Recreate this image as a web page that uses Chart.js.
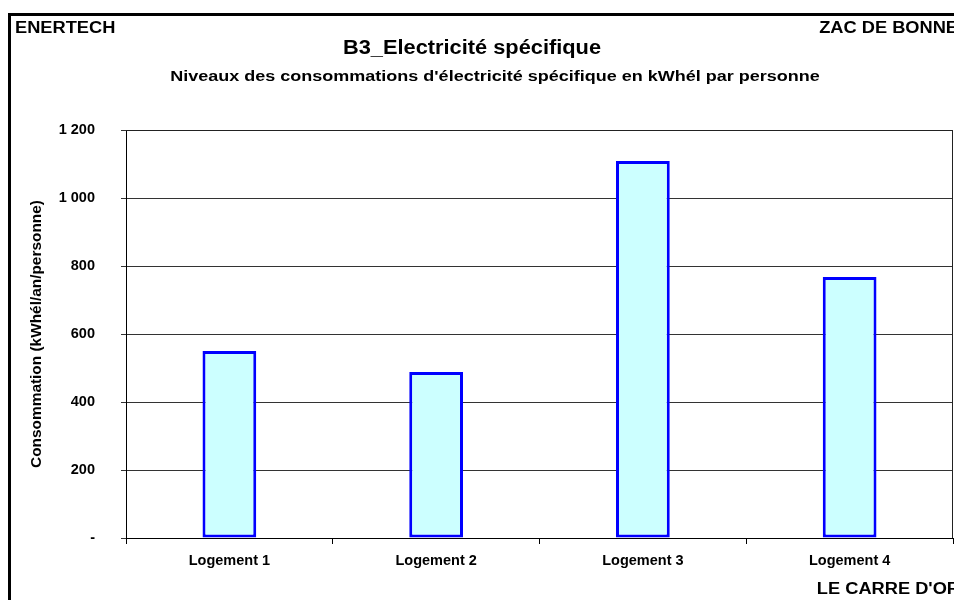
<!DOCTYPE html>
<html>
<head>
<meta charset="utf-8">
<script src="https://cdn.jsdelivr.net/npm/chart.js@4"></script>
<style>
  html, body { margin: 0; padding: 0; background: #fff; overflow: hidden; }
  #wrap { position: relative; width: 954px; height: 600px; }
  #frame { position: absolute; left: 8px; top: 13px; width: 1000px; height: 700px;
           border-left: 3px solid #000; border-top: 3px solid #000; pointer-events: none; }
  canvas { position: absolute; left: 0; top: 0; }
</style>
</head>
<body>
<div id="wrap">
  <canvas id="c" width="954" height="600"></canvas>
  <div id="frame"></div>
</div>
<script>
const categories = ['Logement 1', 'Logement 2', 'Logement 3', 'Logement 4'];
const consommation = [550, 488, 1109, 768];
const yTickValues = [0, 200, 400, 600, 800, 1000, 1200];
const yTickLabels = ['-', '200', '400', '600', '800', '1 000', '1 200'];

const headerLeft = 'ENERTECH';
const headerRight = 'ZAC DE BONNE';
const footerRight = "LE CARRE D'OR";
const mainTitle = 'B3_Electricité spécifique';
const subTitle = "Niveaux des consommations d'électricité spécifique en kWhél par personne";
const yTitle = 'Consommation (kWhél/an/personne)';

const FONT = '"Liberation Sans", Arial, sans-serif';

function stretchText(ctx, txt, x, y, size, sx, align) {
  ctx.save();
  ctx.translate(x, y);
  ctx.scale(sx, 1);
  ctx.font = 'bold ' + size + 'px ' + FONT;
  ctx.textAlign = align;
  ctx.fillText(txt, 0, 0);
  ctx.restore();
}

const textPlugin = {
  id: 'texts',
  afterDraw(chart) {
    const ctx = chart.ctx;
    const a = chart.chartArea;
    ctx.save();
    ctx.fillStyle = '#000';
    ctx.textBaseline = 'alphabetic';
    stretchText(ctx, headerLeft, 15, 33, 16, 1.14, 'left');
    stretchText(ctx, headerRight, 958, 33, 16, 1.14, 'right');
    stretchText(ctx, footerRight, 960, 594, 16, 1.14, 'right');
    stretchText(ctx, mainTitle, 472, 54, 20, 1.09, 'center');
    stretchText(ctx, subTitle, 495, 81, 15, 1.2, 'center');
    // y axis title
    ctx.save();
    ctx.translate(41, (a.top + a.bottom) / 2);
    ctx.rotate(-Math.PI / 2);
    ctx.scale(1.1, 1);
    ctx.font = 'bold 14px ' + FONT;
    ctx.textAlign = 'center';
    ctx.fillText(yTitle, 0, 0);
    ctx.restore();
    // plot area border (top and right)
    ctx.strokeStyle = '#222';
    ctx.lineWidth = 1;
    ctx.beginPath();
    ctx.moveTo(a.left, a.top + 0.5);
    ctx.lineTo(a.right - 0.5, a.top + 0.5);
    ctx.lineTo(a.right - 0.5, a.bottom);
    ctx.stroke();
    ctx.restore();
  }
};

new Chart(document.getElementById('c'), {
  type: 'bar',
  data: {
    labels: categories,
    datasets: [{
      data: consommation,
      backgroundColor: '#CCFFFF',
      borderColor: '#0000FF',
      borderWidth: 3,
      borderSkipped: false,
      categoryPercentage: 1,
      barPercentage: 0.26
    }]
  },
  options: {
    responsive: false,
    animation: false,
    devicePixelRatio: 1,
    layout: { padding: { left: 0, right: 1, top: 130, bottom: 0 } },
    plugins: { legend: { display: false }, tooltip: { enabled: false } },
    scales: {
      x: {
        offset: true,
        afterFit(scale) { scale.height = 62; },
        grid: { offset: true, drawOnChartArea: false, drawTicks: true, tickLength: 6, color: '#000' },
        border: { color: '#000', width: 1 },
        ticks: { color: '#000', font: { family: FONT, weight: 'bold', size: 14.5 }, padding: 8, maxRotation: 0 }
      },
      y: {
        min: 0, max: 1200,
        afterFit(scale) { scale.width = 126; },
        afterBuildTicks(scale) { scale.ticks = yTickValues.map(v => ({ value: v })); },
        grid: { color: '#333', lineWidth: 1, tickLength: 5, drawTicks: true },
        border: { color: '#000', width: 1 },
        ticks: {
          color: '#000',
          font: { family: FONT, weight: 'bold', size: 14.5 },
          padding: 26,
          callback(v) { const i = yTickValues.indexOf(v); return i >= 0 ? yTickLabels[i] : ''; }
        }
      }
    }
  },
  plugins: [textPlugin]
});
</script>
</body>
</html>
